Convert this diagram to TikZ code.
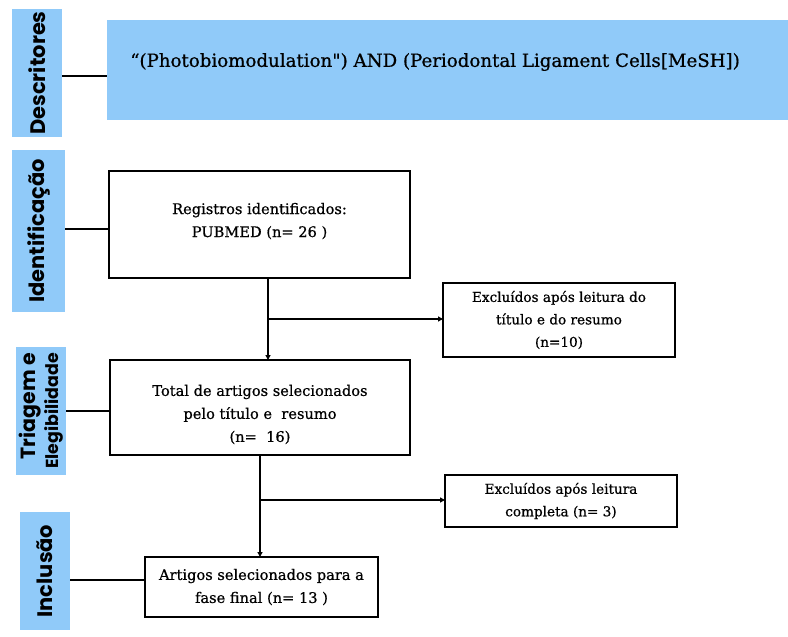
\documentclass[tikz,border=0pt]{standalone}
\usepackage{fontspec}
\setmainfont{DejaVu Serif}[BoldFont=DejaVu Serif,BoldFeatures={FakeBold=0.7}]
\newfontfamily\qfont{DejaVu Serif}[Ligatures=TeXOff,BoldFont=DejaVu Serif,BoldFeatures={FakeBold=0.7}]
\newfontfamily\sidefont{Poppins}
\usetikzlibrary{arrows.meta}
\definecolor{lblue}{RGB}{144,202,249}
\begin{document}
\begin{tikzpicture}[x=1pt,y=-1pt,
  sidebar/.style={fill=lblue,draw=none,inner sep=0pt,outer sep=0pt,
    font=\sidefont\bfseries\fontsize{21}{22}\selectfont,rotate=90,align=center},
  flowbox/.style={draw=black,line width=1.4pt,fill=white,inner sep=0pt,outer sep=0pt,
    align=center,font=\bfseries\fontsize{14.6}{23}\selectfont},
  excbox/.style={flowbox,font=\bfseries\fontsize{13.6}{22.5}\selectfont},
  link/.style={line width=1.4pt},
  arr/.style={line width=1.4pt,-{Triangle[length=5pt,width=5pt]}}]
\useasboundingbox[fill=white] (0,0) rectangle (788,637);

% Descritores
\node[sidebar,minimum width=128pt,minimum height=50pt] (desc) at (37,73) {Descritores};
\node[fill=lblue,inner sep=0pt,outer sep=0pt,minimum width=681pt,minimum height=100pt] (query) at (447.5,70) {};
\node[anchor=west,inner sep=0pt,font=\qfont\bfseries\fontsize{18.2}{20}\selectfont] (qtext) at (130,62)
  {“(Photobiomodulation") AND (Periodontal Ligament Cells[MeSH])};
\draw[link] (desc.south) ++(0,3) coordinate (d1) -- (d1 -| query.west);

% Identificacao
\node[sidebar,minimum width=162pt,minimum height=53pt] (ident) at (38.5,231) {Identificação};
\node[flowbox,minimum width=301pt,minimum height=107pt] (reg) at (259.5,224.5)
  {Registros identificados:\\PUBMED (n= 26 )\\[-14pt]\mbox{}};
\draw[link] (ident.south) ++(0,-2) coordinate (i1) -- (i1 -| reg.west);

% Triagem
\node[sidebar,minimum width=128pt,minimum height=50pt,font=\sidefont\bfseries,align=right] (triag) at (41,411)
  {{\fontsize{20.5}{22}\selectfont Triagem e}\\[2pt]{\fontsize{17.4}{19}\selectfont Elegibilidade}};
\draw[link] (triag.south) coordinate (t1);
\node[flowbox,minimum width=300pt,minimum height=95pt] (total) at (260,407.5)
  {\rule{0pt}{25pt}Total de artigos selecionados\\pelo título e~ resumo\\(n=~ 16)};
\draw[link] (t1) -- (t1 -| total.west);

\node[excbox,minimum width=232pt,minimum height=74pt] (exc1) at (559,320)
  {Excluídos após leitura do\\título e do resumo\\(n=10)};
\coordinate (v1) at (268,0);
\draw[arr] (v1 |- reg.south) -- (v1 |- total.north);
\coordinate (b1) at (268,319);
\draw[arr] (b1) -- (b1 -| exc1.west);

% Inclusao
\node[sidebar,minimum width=118pt,minimum height=50pt] (incl) at (45,571) {Inclusão};
\node[flowbox,minimum width=233pt,minimum height=60pt] (final) at (261.5,587)
  {Artigos selecionados para a\\fase final (n= 13 )};
\draw[link] (incl.south) ++(0,9) coordinate (f1) -- (f1 -| final.west);

\node[excbox,minimum width=232pt,minimum height=52pt] (exc2) at (561,501)
  {Excluídos após leitura\\completa (n= 3)};
\coordinate (v2) at (260,0);
\draw[arr] (v2 |- total.south) -- (v2 |- final.north);
\coordinate (b2) at (260,500);
\draw[arr] (b2) -- (b2 -| exc2.west);
\end{tikzpicture}
\end{document}
